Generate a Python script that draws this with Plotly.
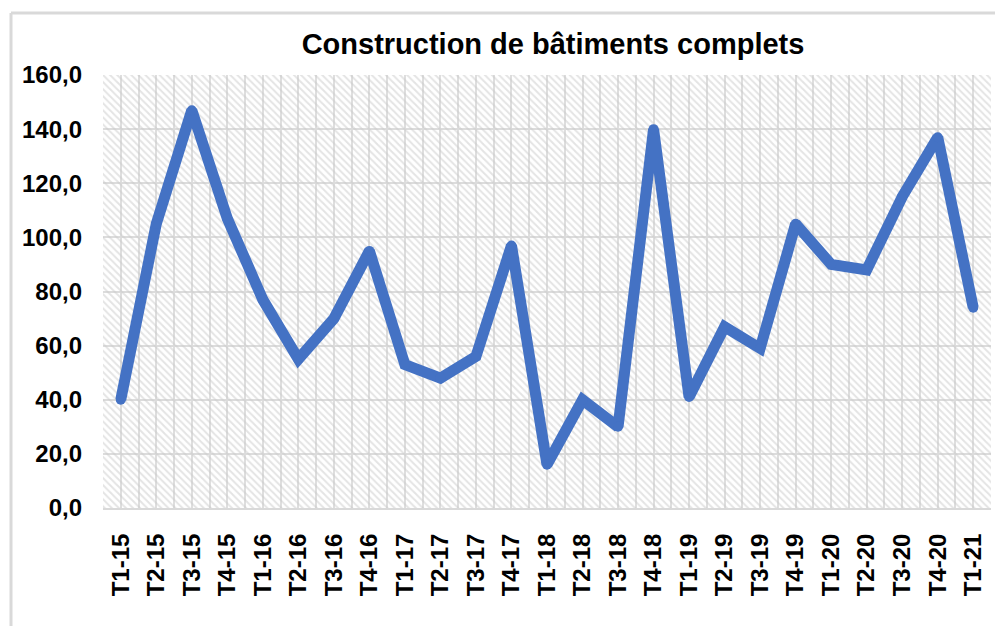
import plotly.graph_objects as go

categories = ["T1-15", "T2-15", "T3-15", "T4-15", "T1-16", "T2-16", "T3-16", "T4-16",
              "T1-17", "T2-17", "T3-17", "T4-17", "T1-18", "T2-18", "T3-18", "T4-18",
              "T1-19", "T2-19", "T3-19", "T4-19", "T1-20", "T2-20", "T3-20", "T4-20",
              "T1-21"]
values = [40, 105, 147, 107, 77, 55, 70, 95,
          53, 48, 56, 97, 16, 40, 30, 140,
          41, 67, 59, 105, 90, 88, 115, 137,
          74]
y_max = 160
y_step = 20
title_text = "Construction de bâtiments complets"

# page body has an 8px margin: lay the figure out in window pixels, then offset
OFF = 8
W, H = 1003 - OFF, 626 - OFF
# plot area in window pixels: x 103..991, y 75..508
L = 103 - OFF
T = 75 - OFF
R = W - (991 - OFF)
B = H - (508 - OFF)
pw, ph = W - L - R, H - T - B

x_idx = list(range(len(categories)))

fig = go.Figure()

# hatched plot-area background (one full-height band per category)
fig.add_trace(go.Bar(
    x=x_idx, y=[y_max] * len(categories), width=1,
    marker=dict(color="rgba(0,0,0,0)", line=dict(width=0),
                pattern=dict(shape="\\", fgcolor="#c9c9c9", bgcolor="rgba(0,0,0,0)",
                             size=5, solidity=0.4)),
    hoverinfo="skip", showlegend=False,
))

# line with rounded joins/caps (markers of line width at each vertex)
fig.add_trace(go.Scatter(
    x=x_idx, y=values, mode="lines+markers",
    line=dict(color="#4472C4", width=11),
    marker=dict(color="#4472C4", size=10, line=dict(width=0)),
    showlegend=False,
))

def px_to_paper_x(px):
    return (px - OFF - L) / pw

def px_to_paper_y(py):
    return (H - B - (py - OFF)) / ph

# outer chart border (cropped: only left and top edges visible)
fig.add_shape(type="line", xref="paper", yref="paper",
              x0=px_to_paper_x(11), x1=px_to_paper_x(11),
              y0=px_to_paper_y(13), y1=px_to_paper_y(640),
              line=dict(color="#d9d9d9", width=3))
fig.add_shape(type="line", xref="paper", yref="paper",
              x0=px_to_paper_x(11), x1=px_to_paper_x(1010),
              y0=px_to_paper_y(13), y1=px_to_paper_y(13),
              line=dict(color="#d9d9d9", width=3))

fig.update_layout(
    width=W, height=H,
    margin=dict(l=L, r=R, t=T, b=B),
    paper_bgcolor="white", plot_bgcolor="white",
    separators=", ",
    bargap=0,
    title=dict(text=title_text, x=(553 - OFF) / W, xanchor="center",
               y=1 - (44 - OFF) / H, yanchor="middle",
               font=dict(family="Liberation Sans, Arial", size=29, color="black", weight="bold")),
    font=dict(family="Liberation Sans, Arial", color="black"),
    xaxis=dict(
        range=[-0.5, len(categories) - 0.5],
        tickmode="array", tickvals=x_idx, ticktext=categories,
        tickangle=-90,
        tickfont=dict(size=24, weight="bold", color="black"),
        showgrid=True, gridcolor="#dedede", gridwidth=1.5,
        minor=dict(tickmode="linear", tick0=-0.5, dtick=1, showgrid=True,
                   gridcolor="#dedede", gridwidth=1.5),
        showline=True, linecolor="#d9d9d9", linewidth=2,
        ticks="", ticklabelstandoff=14,
        zeroline=False, fixedrange=True,
    ),
    yaxis=dict(
        range=[0, y_max], dtick=y_step, tick0=0,
        tickformat=".1f",
        tickfont=dict(size=24, weight="bold", color="black"),
        showgrid=True, gridcolor="#dcdcdc", gridwidth=2,
        showline=False, zeroline=False,
        ticks="", ticklabelstandoff=20,
        fixedrange=True,
    ),
)

fig.write_html("out.html")
